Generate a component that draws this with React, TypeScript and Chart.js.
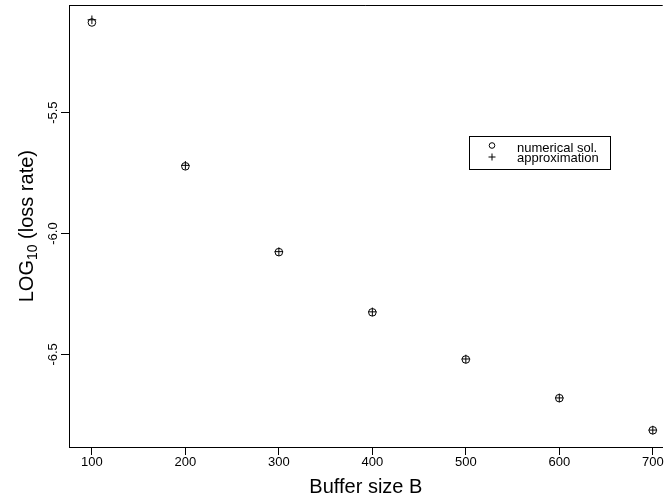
import React, { useEffect, useRef } from 'react';
import { Chart, registerables } from 'chart.js';

Chart.register(...registerables);

const bufferSizes = [100, 200, 300, 400, 500, 600, 700];
const numericalSol = [-5.127, -5.722, -6.077, -6.326, -6.521, -6.681, -6.814];
const approximation = [-5.116, -5.718, -6.075, -6.324, -6.519, -6.68, -6.813];
const xTickValues = [100, 200, 300, 400, 500, 600, 700];
const yTickValues = [-6.5, -6.0, -5.5];
const yTickLabels = ['-6.5', '-6.0', '-5.5'];
const seriesLabels = ['numerical sol.', 'approximation'];
const xTitle = 'Buffer size B';
const yTitleMain = 'LOG';
const yTitleSub = '10';
const yTitleRest = ' (loss rate)';

const FONT = '"Liberation Sans", Arial, Helvetica, sans-serif';
const TICK_LEN = 8;

const framePlugin = {
  id: 'frameAndText',
  afterDraw(chart: any) {
    const ctx = chart.ctx;
    const area = chart.chartArea;
    ctx.save();
    ctx.strokeStyle = '#000';
    ctx.lineWidth = 1;
    // top frame line
    ctx.beginPath();
    ctx.moveTo(area.left, Math.round(area.top) + 0.5);
    ctx.lineTo(area.right, Math.round(area.top) + 0.5);
    ctx.stroke();

    // y title with subscript
    const cy = (area.top + area.bottom) / 2;
    const cx = 27;
    ctx.translate(cx, cy);
    ctx.rotate(-Math.PI / 2);
    ctx.fillStyle = '#000';
    ctx.textBaseline = 'middle';
    ctx.textAlign = 'left';
    const big = `20px ${FONT}`;
    const small = `14px ${FONT}`;
    ctx.font = big;
    const w1 = ctx.measureText(yTitleMain).width;
    const w3 = ctx.measureText(yTitleRest).width;
    ctx.font = small;
    const w2 = ctx.measureText(yTitleSub).width;
    const total = w1 + w2 + w3;
    let x = -total / 2;
    ctx.font = big;
    ctx.fillText(yTitleMain, x, 0);
    x += w1;
    ctx.font = small;
    ctx.fillText(yTitleSub, x, 6);
    x += w2;
    ctx.font = big;
    ctx.fillText(yTitleRest, x, 0);
    ctx.restore();

    // legend box
    ctx.save();
    ctx.strokeStyle = '#000';
    ctx.lineWidth = 1;
    ctx.strokeRect(469.5, 136.5, 141, 33);
    const ds = chart.data.datasets;
    ctx.beginPath();
    ctx.arc(492, 145.5, 2.8, 0, Math.PI * 2);
    ctx.stroke();
    ctx.beginPath();
    ctx.moveTo(488.5, 157);
    ctx.lineTo(495.5, 157);
    ctx.moveTo(492, 153.5);
    ctx.lineTo(492, 160.5);
    ctx.stroke();
    ctx.fillStyle = '#000';
    ctx.font = `13px ${FONT}`;
    ctx.textBaseline = 'alphabetic';
    ctx.textAlign = 'left';
    ctx.fillText(ds[0].label, 517, 152);
    ctx.fillText(ds[1].label, 517, 161.5);
    ctx.restore();
  },
};

export default function App() {
  const ref = useRef<HTMLCanvasElement | null>(null);

  useEffect(() => {
    if (!ref.current) return;
    Chart.defaults.font.family = FONT;
    const chart = new Chart(ref.current, {
      type: 'scatter',
      data: {
        datasets: [
          {
            label: seriesLabels[0],
            data: bufferSizes.map((b, i) => ({ x: b, y: numericalSol[i] })),
            pointStyle: 'circle',
            pointRadius: 3.8,
            borderColor: '#000',
            backgroundColor: 'rgba(0,0,0,0)',
            borderWidth: 1,
            showLine: false,
          },
          {
            label: seriesLabels[1],
            data: bufferSizes.map((b, i) => ({ x: b, y: approximation[i] })),
            pointStyle: 'cross',
            pointRadius: 4.3,
            borderColor: '#000',
            backgroundColor: '#000',
            borderWidth: 1,
            showLine: false,
          },
        ],
      },
      options: {
        responsive: false,
        animation: false,
        events: [],
        layout: { padding: { top: 5, left: 0, right: 0, bottom: 0 } },
        plugins: {
          legend: { display: false },
          tooltip: { enabled: false },
        },
        scales: {
          x: {
            type: 'linear',
            position: 'bottom',
            min: 75.5,
            max: 710.6,
            afterBuildTicks: (s: any) => {
              s.ticks = xTickValues.map((v) => ({ value: v }));
            },
            afterFit: (s: any) => {
              s.height = 56;
            },
            ticks: {
              color: '#000',
              font: { size: 13, family: FONT },
              padding: 0,
              maxRotation: 0,
              autoSkip: false,
              callback: (v: any) => String(v),
            },
            grid: {
              display: true,
              drawOnChartArea: false,
              drawTicks: true,
              tickLength: TICK_LEN,
              color: '#000',
              tickColor: '#000',
              lineWidth: 1,
            },
            border: { display: true, color: '#000', width: 1 },
            title: {
              display: true,
              text: xTitle,
              color: '#000',
              font: { size: 20, family: FONT },
              padding: { top: 0, bottom: 4 },
            },
          },
          y: {
            type: 'linear',
            min: -6.883,
            max: -5.056,
            afterBuildTicks: (s: any) => {
              s.ticks = yTickValues.map((v) => ({ value: v }));
            },
            afterFit: (s: any) => {
              s.width = 69;
            },
            ticks: {
              color: '#000',
              font: { size: 13, family: FONT },
              padding: -4,
              minRotation: 90,
              maxRotation: 90,
              crossAlign: 'center',
              autoSkip: false,
              callback: (v: any) => {
                const i = yTickValues.findIndex((t) => Math.abs(t - v) < 1e-9);
                return i >= 0 ? yTickLabels[i] : '';
              },
            },
            grid: {
              display: true,
              drawOnChartArea: false,
              drawTicks: true,
              tickLength: TICK_LEN,
              color: '#000',
              tickColor: '#000',
              lineWidth: 1,
            },
            border: { display: true, color: '#000', width: 1 },
            title: { display: false },
          },
        },
      } as any,
      plugins: [framePlugin],
    });
    return () => chart.destroy();
  }, []);

  return (
    <div style={{ position: 'fixed', left: 0, top: 0, width: 668, height: 503, background: '#fff' }}>
      <canvas ref={ref} width={668} height={503} style={{ display: 'block', width: 668, height: 503 }} />
    </div>
  );
}
